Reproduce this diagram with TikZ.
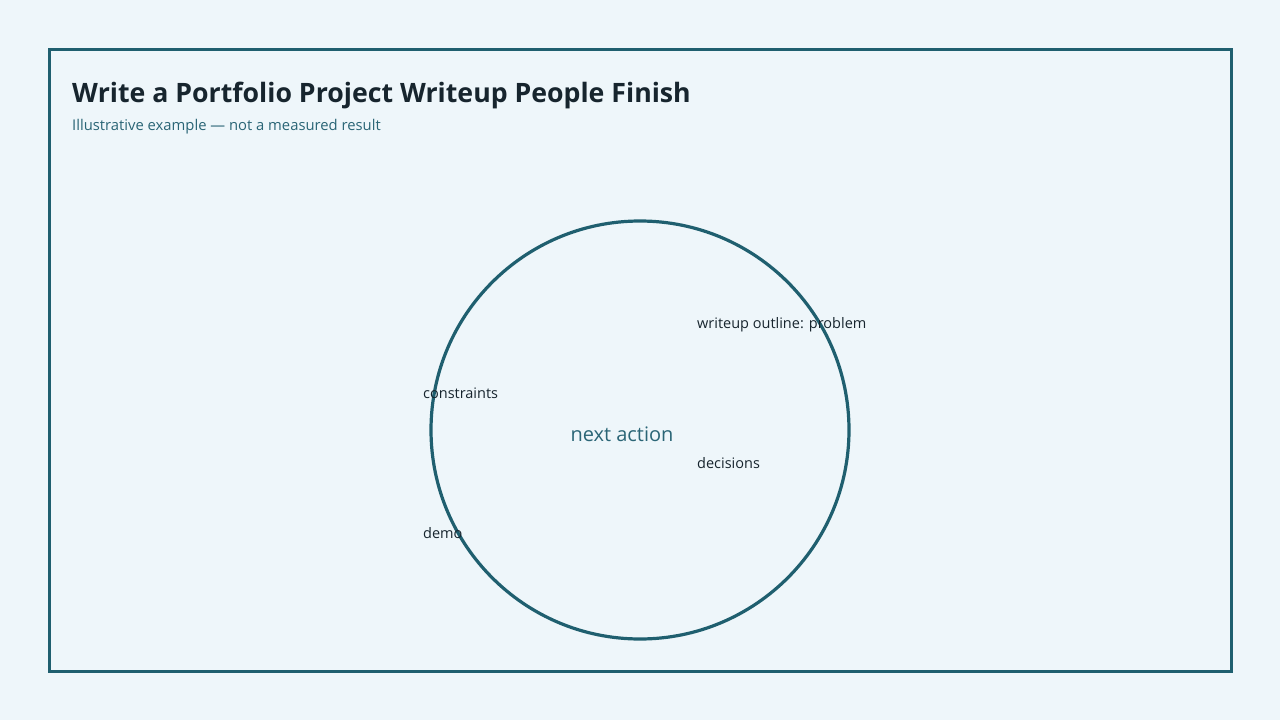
\documentclass[tikz,border=0pt]{standalone}
\usepackage{fontspec}
\setmainfont{Open Sans}
\definecolor{bg}{HTML}{EEF6FA}
\definecolor{teal}{HTML}{1F5F6F}
\definecolor{ink}{HTML}{17252E}
\definecolor{sub}{HTML}{2A6576}
\begin{document}
\begin{tikzpicture}[x=1pt,y=-1pt,
  lbl/.style={anchor=base west,inner sep=0pt,font=\fontsize{14.5}{16}\selectfont,text=ink},
  ]
\useasboundingbox (0,0) rectangle (1280,720);
\fill[bg] (0,0) rectangle (1280,720);
\draw[teal,line width=3pt] (49,49) rectangle (1231,671);
\node[anchor=base west,inner sep=0pt,font=\fontsize{26.7}{32}\selectfont\bfseries,text=ink] (title) at (72,102) {Write a Portfolio Project Writeup People Finish};
\node[anchor=base west,inner sep=0pt,font=\fontsize{14.8}{16}\selectfont,text=sub] (subtitle) at (72,130) {Illustrative example — not a measured result};
\node[circle,draw=teal,line width=3.2pt,minimum size=418pt,inner sep=0pt,line join=round] (ring) at (640,430) {};
\node[anchor=base,inner sep=0pt,font=\fontsize{20}{22}\selectfont,text=sub] (center) at (622,441) {next action};
\node[lbl] (l1) at (697,328) {writeup outline: problem};
\node[lbl] (l2) at (423,398) {constraints};
\node[lbl] (l3) at (697,468) {decisions};
\node[lbl] (l4) at (423,538) {demo};
\end{tikzpicture}
\end{document}
